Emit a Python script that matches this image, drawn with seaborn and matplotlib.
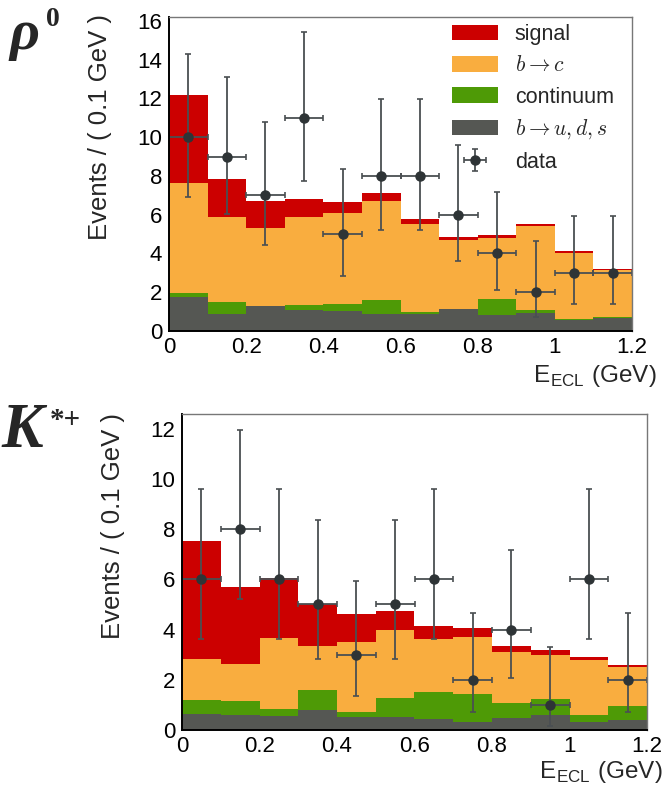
import numpy as np
import pandas as pd
import matplotlib
matplotlib.use("Agg")
import matplotlib.pyplot as plt
import seaborn as sns
from matplotlib.patches import Patch
from matplotlib.ticker import MultipleLocator, FormatStrFormatter

# ---------------- data ----------------
bin_edges = [0.0, 0.1, 0.2, 0.3, 0.4, 0.5, 0.6, 0.7, 0.8, 0.9, 1.0, 1.1, 1.2]
bin_centers = [0.05, 0.15, 0.25, 0.35, 0.45, 0.55, 0.65, 0.75, 0.85, 0.95, 1.05, 1.15]

# rho0 panel
rho_buds = [1.77, 0.89, 1.29, 1.10, 1.05, 0.89, 0.89, 1.12, 0.81, 0.93, 0.58, 0.69]
rho_cont = [0.21, 0.60, 0.01, 0.26, 0.36, 0.71, 0.07, 0.01, 0.86, 0.15, 0.04, 0.03]
rho_bc = [5.65, 4.39, 4.03, 4.52, 4.69, 5.12, 4.54, 3.59, 3.14, 4.32, 3.43, 2.41]
rho_sig = [4.57, 1.96, 1.39, 0.92, 0.58, 0.41, 0.26, 0.14, 0.12, 0.10, 0.09, 0.08]
rho_data = [10, 9, 7, 11, 5, 8, 8, 6, 4, 2, 3, 3]
rho_err_lo = [3.11, 2.94, 2.58, 3.27, 2.16, 2.77, 2.77, 2.38, 1.91, 1.29, 1.63, 1.63]
rho_err_hi = [4.27, 4.11, 3.77, 4.42, 3.38, 3.96, 3.96, 3.58, 3.16, 2.64, 2.92, 2.92]

# K*+ panel
ks_buds = [0.65, 0.61, 0.56, 0.80, 0.52, 0.50, 0.45, 0.33, 0.48, 0.60, 0.33, 0.41]
ks_cont = [0.53, 0.53, 0.29, 0.81, 0.21, 0.79, 1.06, 1.11, 0.60, 0.65, 0.25, 0.56]
ks_bc = [1.65, 1.49, 2.80, 1.74, 2.76, 2.68, 2.13, 2.28, 2.04, 1.73, 2.22, 1.53]
ks_sig = [4.68, 3.08, 2.41, 1.66, 1.12, 0.75, 0.51, 0.35, 0.24, 0.21, 0.12, 0.09]
ks_data = [6, 8, 6, 5, 3, 5, 6, 2, 4, 1, 6, 2]
ks_err_lo = [2.38, 2.77, 2.38, 2.16, 1.63, 2.16, 2.38, 1.29, 1.91, 0.83, 2.38, 1.29]
ks_err_hi = [3.58, 3.96, 3.58, 3.38, 2.92, 3.38, 3.58, 2.64, 3.16, 2.30, 3.58, 2.64]

labels = ["signal", r"$b \rightarrow c$", "continuum", r"$b \rightarrow u, d, s$"]
colors = ["#CC0000", "#F9AD3F", "#4E9A06", "#555753"]
data_color = "#2E3436"

# ---------------- style ----------------
sns.set_theme(style="white")
plt.rcParams["font.family"] = ["Liberation Sans", "DejaVu Sans"]
plt.rcParams["mathtext.fontset"] = "cm"

W, H = 666, 787
fig = plt.figure(figsize=(W / 100, H / 100), dpi=100)


def ax_rect(l, t, r, b):
    return [l / W, 1 - b / H, (r - l) / W, (b - t) / H]


ax1 = fig.add_axes(ax_rect(169, 17, 632, 331))
ax2 = fig.add_axes(ax_rect(182, 414, 647, 730))


def draw_panel(ax, comps, data, elo, ehi, ymax):
    # comps ordered from top layer (signal) down to bottom layer (b->uds)
    df = pd.DataFrame({"x": bin_centers})
    n = len(comps)
    for i in range(n):
        cum = np.sum(np.array(comps[i:]), axis=0)
        df["w"] = cum
        sns.histplot(data=df, x="x", weights="w", bins=bin_edges, element="step",
                     fill=True, color=colors[i], alpha=1.0, linewidth=0, ax=ax)
    eb = ax.errorbar(bin_centers, data, xerr=0.05, yerr=[elo, ehi], fmt="o",
                     color=data_color, ecolor="#4a4f52", ms=6.5, elinewidth=1.3,
                     capsize=2.2, capthick=1.2, zorder=5)
    ax.set_xlim(0, 1.2)
    ax.set_ylim(0, ymax)
    ax.set_xlabel("")
    ax.set_ylabel("")
    ax.xaxis.set_major_locator(MultipleLocator(0.2))
    ax.xaxis.set_minor_locator(MultipleLocator(0.05))
    ax.yaxis.set_major_locator(MultipleLocator(2))
    ax.yaxis.set_minor_locator(MultipleLocator(0.5))
    ax.xaxis.set_major_formatter(FormatStrFormatter("%g"))
    ax.yaxis.set_major_formatter(FormatStrFormatter("%g"))
    ax.tick_params(which="both", direction="in", top=False, right=False,
                   colors="black", labelsize=16)
    ax.tick_params(axis="y", which="major", length=9.5, width=1.2, pad=5)
    ax.tick_params(axis="y", which="minor", length=4.8, width=1.0)
    ax.tick_params(axis="x", which="major", length=4.5, width=1.2, pad=4)
    ax.tick_params(axis="x", which="minor", length=2.5, width=1.0)
    for s in ["left", "bottom"]:
        ax.spines[s].set_color("black")
        ax.spines[s].set_linewidth(1.4)
        ax.spines[s].set_zorder(6)
    for s in ["top", "right"]:
        ax.spines[s].set_color("#777777")
        ax.spines[s].set_linewidth(1.0)
        ax.spines[s].set_zorder(6)
    return eb


eb1 = draw_panel(ax1, [rho_sig, rho_bc, rho_cont, rho_buds], rho_data,
                 rho_err_lo, rho_err_hi, 16.2)
eb2 = draw_panel(ax2, [ks_sig, ks_bc, ks_cont, ks_buds], ks_data,
                 ks_err_lo, ks_err_hi, 12.58)

handles = [Patch(facecolor=c, edgecolor="none") for c in colors] + [eb1]
leg = ax1.legend(handles, labels + ["data"], loc="upper left",
                 bbox_to_anchor=(279 / 463, 1.0 - 3 / 314), frameon=False,
                 fontsize=15.5, handlelength=2.1, handleheight=0.72,
                 labelspacing=0.47, handletextpad=0.8, borderaxespad=0.0,
                 borderpad=0.2)
for t in leg.get_texts():
    t.set_math_fontfamily("cm")

# axis titles
ylab = "Events / ( 0.1 GeV )"
fig.text(100 / W, 1 - 14 / H, ylab, rotation=90, ha="center", va="top", fontsize=18.5)
fig.text(113 / W, 1 - 413 / H, ylab, rotation=90, ha="center", va="top", fontsize=18.5)
xlab = r"E$_{\mathregular{ECL}}$ (GeV)"
fig.text(657 / W, 1 - 382 / H, xlab, ha="right", va="baseline", fontsize=17.5)
fig.text(663 / W, 1 - 778 / H, xlab, ha="right", va="baseline", fontsize=17.5)

# panel labels
serif_bi = dict(family=["Liberation Serif", "DejaVu Serif"], weight="bold", style="italic")
fig.text(9 / W, 1 - 49 / H, "\u03c1", fontsize=42, ha="left", va="baseline", **serif_bi)
fig.text(46 / W, 1 - 26 / H, "0", fontsize=20, ha="left", va="baseline",
         family=["Liberation Serif"], weight="bold")
fig.text(1 / W, 1 - 447 / H, "K", fontsize=45, ha="left", va="baseline", **serif_bi)
fig.text(50 / W, 1 - 428 / H, "*+", fontsize=21, ha="left", va="baseline",
         family=["Liberation Serif"], weight="bold")

fig.savefig("out.png", dpi=100)
